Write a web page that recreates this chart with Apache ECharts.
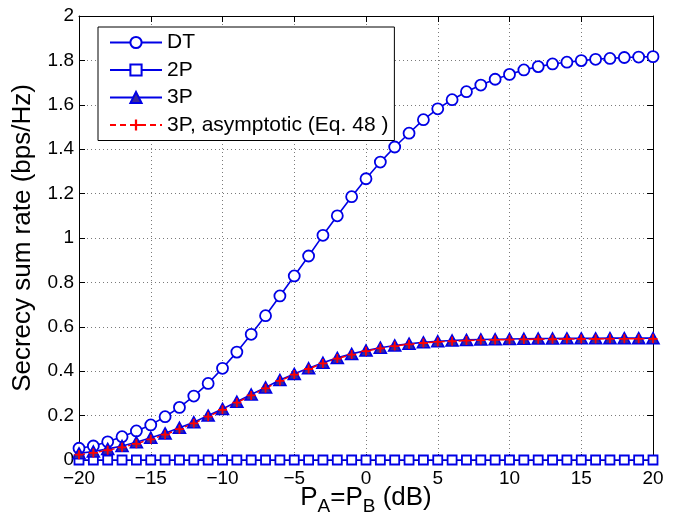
<!DOCTYPE html>
<html>
<head>
<meta charset="utf-8">
<script src="https://cdn.jsdelivr.net/npm/echarts@6/dist/echarts.min.js"></script>
<style>
  html, body { margin: 0; padding: 0; background: #fff; }
  #chart { width: 677px; height: 523px; }
</style>
</head>
<body>
<div id="chart"></div>
<script>
// Transmit power P_A = P_B in dB
const snrDb = [-20,-19,-18,-17,-16,-15,-14,-13,-12,-11,-10,-9,-8,-7,-6,-5,-4,-3,-2,-1,0,
               1,2,3,4,5,6,7,8,9,10,11,12,13,14,15,16,17,18,19,20];

// Secrecy sum rate (bps/Hz) for each scheme
const rateDT = [0.053,0.063,0.082,0.105,0.131,0.158,0.195,0.237,0.288,0.345,0.413,
                0.486,0.566,0.65,0.739,0.829,0.919,1.012,1.10,1.186,1.267,
                1.342,1.41,1.472,1.533,1.582,1.623,1.659,1.689,1.715,
                1.737,1.757,1.772,1.784,1.792,1.799,1.805,1.809,1.813,1.815,1.817];
const rate2P = [0,0,0,0,0,0,0,0,0,0,0,0,0,0,0,0,0,0,0,0,0,
                0,0,0,0,0,0,0,0,0,0,0,0,0,0,0,0,0,0,0,0];
const rate3P = [0.03,0.038,0.05,0.063,0.08,0.10,0.12,0.145,0.17,0.2,0.23,
                0.262,0.295,0.327,0.36,0.388,0.413,0.438,0.46,0.478,0.493,
                0.506,0.516,0.524,0.53,0.535,0.538,0.541,0.543,0.544,0.545,
                0.546,0.547,0.547,0.548,0.548,0.548,0.549,0.549,0.549,0.549];
const rate3PAsym = [0.024,0.032,0.044,0.057,0.073,0.093,0.114,0.139,0.165,0.195,0.226,
                    0.258,0.291,0.323,0.356,0.385,0.41,0.435,0.457,0.475,0.49,
                    0.503,0.513,0.521,0.527,0.532,0.535,0.538,0.54,0.541,0.542,
                    0.543,0.544,0.544,0.545,0.545,0.545,0.546,0.546,0.546,0.546];

const seriesNames = ['DT', '2P', '3P', '3P, asymptotic (Eq. 48 )'];

const pairs = ys => snrDb.map((x, i) => [x, ys[i]]);

const FONT = '"Liberation Sans", Arial, sans-serif';
const BLUE = '#0000e6';
const RED = '#ff0000';
const PLUS = 'path://M4,0h2v4h4v2h-4v4h-2v-4h-4v-2h4z';

const chart = echarts.init(document.getElementById('chart'), null, { renderer: 'canvas' });

// Frame axes on the top and right: ticks only, no labels
const boxAxisCommon = {
  axisLine: { show: true, onZero: false, lineStyle: { color: '#000', width: 1 } },
  axisTick: { show: true, inside: true, length: 6, lineStyle: { color: '#000' } },
  axisLabel: { show: false },
  splitLine: { show: false }
};

chart.setOption({
  animation: false,
  backgroundColor: '#fff',
  textStyle: { fontFamily: FONT },
  grid: { left: 79, right: 24, top: 16, bottom: 63, outerBoundsMode: 'none', containLabel: false },
  legend: {
    data: seriesNames,
    orient: 'vertical',
    left: 98,
    top: 27,
    padding: [5, 6, 5, 11],
    itemGap: 6.5,
    itemWidth: 52,
    itemHeight: 14,
    backgroundColor: '#fff',
    borderColor: '#000',
    borderWidth: 1,
    borderRadius: 0,
    z: 10,
    textStyle: { fontFamily: FONT, fontSize: 21, color: '#000' },
    selectedMode: false
  },
  xAxis: [
    {
      type: 'value', min: -20, max: 20, interval: 5,
      name: '{n|P}{s|A}{n|=P}{s|B}{n| (dB)}',
      nameLocation: 'middle', nameGap: 20, nameMoveOverlap: false,
      nameTextStyle: {
        verticalAlign: 'top',
        rich: {
          n: { fontFamily: FONT, fontSize: 26, color: '#000' },
          s: { fontFamily: FONT, fontSize: 19, color: '#000', verticalAlign: 'bottom', padding: [17, 0, 0, 0] }
        }
      },
      axisLine: { show: true, onZero: false, lineStyle: { color: '#000', width: 1 } },
      axisTick: { show: true, inside: true, length: 6, lineStyle: { color: '#000' } },
      axisLabel: {
        fontFamily: FONT, fontSize: 19, color: '#000', margin: 9,
        formatter: v => String(v).replace('-', '\u2212')
      },
      splitLine: { show: true, lineStyle: { color: '#7a7a7a', type: [1, 3], width: 1 } }
    },
    Object.assign({ type: 'value', min: -20, max: 20, interval: 5, position: 'top' }, boxAxisCommon)
  ],
  yAxis: [
    {
      type: 'value', min: 0, max: 2, interval: 0.2,
      name: 'Secrecy sum rate (bps/Hz)',
      nameLocation: 'middle', nameGap: 43, nameMoveOverlap: false,
      nameTextStyle: { fontFamily: FONT, fontSize: 26, color: '#000' },
      axisLine: { show: true, onZero: false, lineStyle: { color: '#000', width: 1 } },
      axisTick: { show: true, inside: true, length: 6, lineStyle: { color: '#000' } },
      axisLabel: { fontFamily: FONT, fontSize: 19, color: '#000', margin: 5 },
      splitLine: { show: true, lineStyle: { color: '#7a7a7a', type: [1, 3], width: 1 } }
    },
    Object.assign({ type: 'value', min: 0, max: 2, interval: 0.2, position: 'right' }, boxAxisCommon)
  ],
  series: [
    {
      name: seriesNames[0], type: 'line', data: pairs(rateDT), clip: false,
      symbol: 'circle', symbolSize: 11, showAllSymbol: true,
      lineStyle: { color: BLUE, width: 1.6 },
      itemStyle: { color: '#fff', borderColor: BLUE, borderWidth: 1.8 }
    },
    {
      name: seriesNames[1], type: 'line', data: pairs(rate2P), clip: false,
      symbol: 'rect', symbolSize: 9, showAllSymbol: true,
      lineStyle: { color: BLUE, width: 1.6 },
      itemStyle: { color: '#fff', borderColor: BLUE, borderWidth: 1.8 }
    },
    {
      name: seriesNames[2], type: 'line', data: pairs(rate3P), clip: false,
      symbol: 'triangle', symbolSize: [12, 11], showAllSymbol: true,
      lineStyle: { color: BLUE, width: 1.6 },
      itemStyle: { color: '#3a2a9a', borderColor: BLUE, borderWidth: 1.6 }
    },
    {
      name: seriesNames[3], type: 'line', data: pairs(rate3PAsym), clip: false,
      symbol: PLUS, symbolSize: 9, showAllSymbol: true,
      lineStyle: { color: RED, width: 1.5, type: [6, 4] },
      itemStyle: { color: RED, borderWidth: 0 }
    }
  ]
});
</script>
</body>
</html>
